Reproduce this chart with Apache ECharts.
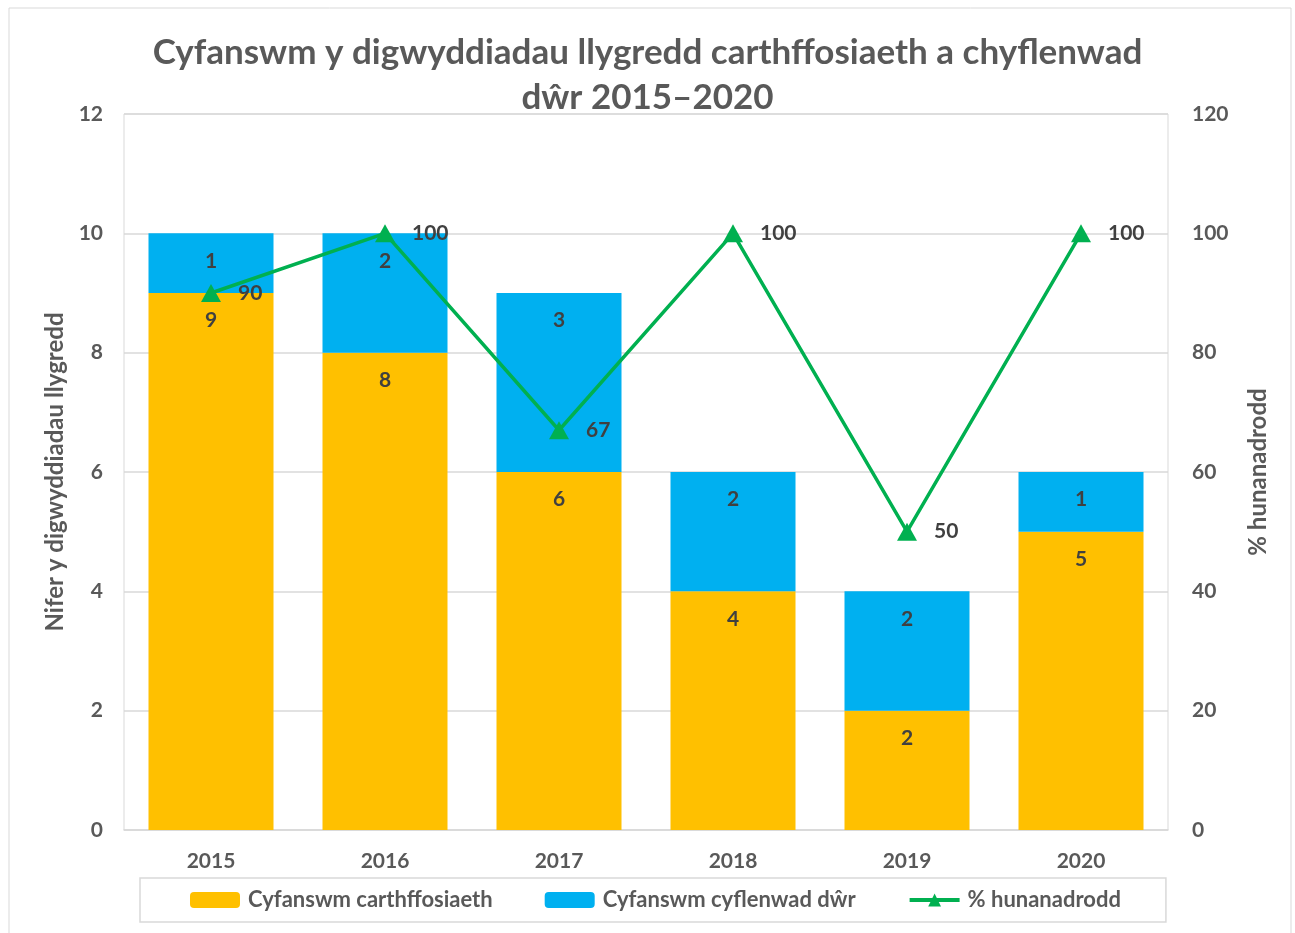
<!DOCTYPE html>
<html lang="cy">
<head>
    <meta charset="UTF-8">
    <title>Cyfanswm y digwyddiadau llygredd</title>
    <style>
        html, body { margin: 0; padding: 0; background: #fff; }
        #chart { width: 1295px; height: 933px; }
    </style>
</head>
<body>
    <div id="chart"></div>
    <script src="https://cdn.jsdelivr.net/npm/echarts@6/dist/echarts.min.js"></script>
    <script>
        // data
        const years = ['2015', '2016', '2017', '2018', '2019', '2020'];
        const sewerage = [9, 8, 6, 4, 2, 5];
        const waterSupply = [1, 2, 3, 2, 2, 1];
        const selfReported = [90, 100, 67, 100, 50, 100];

        const FONT = 'Lato, "Open Sans", sans-serif';
        const axisGrey = '#595959';
        const labelDark = '#404040';

        const chart = echarts.init(document.getElementById('chart'));

        const barLabel = {
            show: true,
            position: 'insideTop',
            distance: 17,
            color: labelDark,
            fontFamily: FONT,
            fontWeight: 'bold',
            fontSize: 21
        };

        chart.setOption({
            animation: false,
            textStyle: { fontFamily: FONT },
            graphic: [{
                type: 'rect',
                shape: { x: 9, y: 8, width: 1282, height: 960 },
                style: { fill: 'none', stroke: '#d9d9d9', lineWidth: 1 },
                silent: true
            }],
            title: {
                text: 'Cyfanswm y digwyddiadau llygredd carthffosiaeth a chyflenwad\ndŵr 2015–2020',
                left: 'center',
                top: 25,
                textStyle: {
                    fontFamily: FONT,
                    fontSize: 35,
                    fontWeight: 'bold',
                    color: axisGrey,
                    lineHeight: 45
                }
            },
            grid: {
                left: 124,
                right: 127,
                top: 114,
                bottom: 103,
                show: true,
                borderColor: '#d9d9d9',
                borderWidth: 1
            },
            legend: {
                bottom: 11,
                left: 140,
                padding: [11, 45, 11, 50],
                borderColor: '#d9d9d9',
                borderWidth: 1.5,
                itemWidth: 50,
                itemHeight: 16,
                itemGap: 52,
                textStyle: {
                    fontFamily: FONT,
                    fontWeight: 'bold',
                    fontSize: 22,
                    color: axisGrey,
                    padding: [0, 0, 0, 3]
                },
                data: [
                    'Cyfanswm carthffosiaeth',
                    'Cyfanswm cyflenwad dŵr',
                    { name: '% hunanadrodd', lineStyle: { width: 4 } }
                ]
            },
            xAxis: {
                type: 'category',
                data: years,
                axisTick: { show: false },
                axisLine: { lineStyle: { color: '#d9d9d9', width: 1.5 } },
                axisLabel: {
                    margin: 21,
                    color: axisGrey,
                    fontFamily: FONT,
                    fontWeight: 'bold',
                    fontSize: 21
                }
            },
            yAxis: [{
                type: 'value',
                min: 0,
                max: 12,
                interval: 2,
                name: 'Nifer y digwyddiadau llygredd',
                nameLocation: 'middle',
                nameRotate: 90,
                nameGap: 54,
                nameTextStyle: {
                    color: axisGrey,
                    fontFamily: FONT,
                    fontWeight: 'bold',
                    fontSize: 24
                },
                axisLine: { show: false },
                axisTick: { show: false },
                splitLine: { lineStyle: { color: '#d9d9d9', width: 1.5 } },
                axisLabel: {
                    margin: 21,
                    color: axisGrey,
                    fontFamily: FONT,
                    fontWeight: 'bold',
                    fontSize: 21
                }
            }, {
                type: 'value',
                min: 0,
                max: 120,
                interval: 20,
                name: '% hunanadrodd',
                nameLocation: 'middle',
                nameRotate: 90,
                nameGap: 78,
                nameTextStyle: {
                    color: axisGrey,
                    fontFamily: FONT,
                    fontWeight: 'bold',
                    fontSize: 24
                },
                axisLine: { show: false },
                axisTick: { show: false },
                splitLine: { show: false },
                axisLabel: {
                    margin: 24,
                    color: axisGrey,
                    fontFamily: FONT,
                    fontWeight: 'bold',
                    fontSize: 21
                }
            }],
            series: [{
                name: 'Cyfanswm carthffosiaeth',
                type: 'bar',
                stack: 'total',
                barWidth: 125,
                itemStyle: { color: '#FFC000' },
                label: barLabel,
                data: sewerage
            }, {
                name: 'Cyfanswm cyflenwad dŵr',
                type: 'bar',
                stack: 'total',
                barWidth: 125,
                itemStyle: { color: '#00B0F0' },
                label: barLabel,
                data: waterSupply
            }, {
                name: '% hunanadrodd',
                type: 'line',
                yAxisIndex: 1,
                symbol: 'triangle',
                symbolSize: [20, 18],
                lineStyle: { color: '#00B050', width: 3.5 },
                itemStyle: { color: '#00B050' },
                label: {
                    show: true,
                    position: 'right',
                    distance: 17,
                    color: labelDark,
                    fontFamily: FONT,
                    fontWeight: 'bold',
                    fontSize: 21
                },
                data: selfReported
            }]
        });

        window.addEventListener('resize', function () {
            chart.resize();
        });
    </script>
</body>
</html>
